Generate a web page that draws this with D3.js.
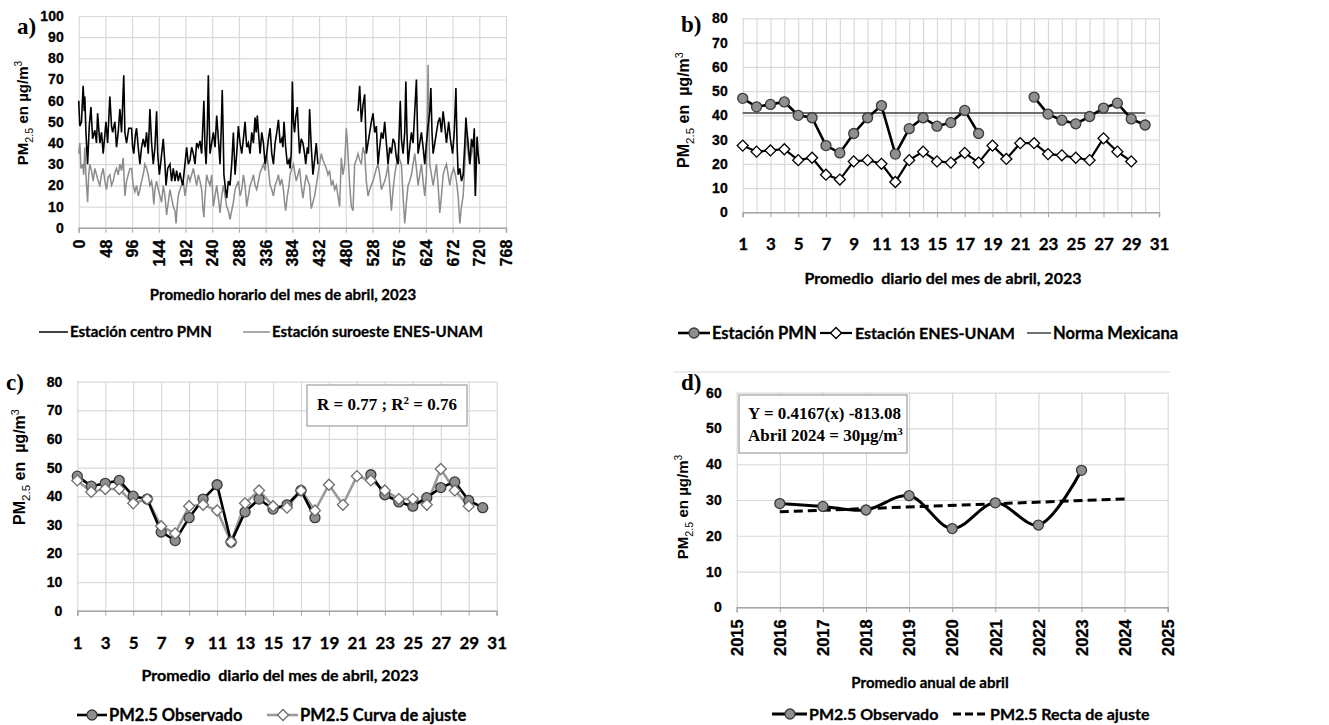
<!DOCTYPE html>
<html>
<head>
<meta charset="utf-8">
<script src="https://cdn.jsdelivr.net/npm/d3@7"></script>
<style>
body { margin: 0; background: #fff; }
svg { display: block; }
text { white-space: pre; }
</style>
</head>
<body>
<svg id="chart" width="1329" height="725"></svg>
<script>
// ---- a) promedio horario, abril 2023: [hora, valor]
var horarioPMN = [[0,60],[2,48],[5,50],[8,67],[10,55],[11,62],[13,45],[16,30],[19,48],[22,57],[25,42],[29,46],[32,40],[34,54],[38,40],[41,45],[44,35],[47,44],[49,50],[52,40],[56,62],[59,48],[61,45],[65,50],[68,38],[71,45],[74,56],[77,45],[81,72],[83,45],[86,40],[90,47],[95,47],[97,38],[99,35],[102,44],[104,47],[107,38],[110,30],[113,38],[116,42],[119,38],[122,45],[125,35],[128,56],[131,40],[134,30],[137,38],[140,55],[142,35],[145,25],[148,32],[152,42],[155,30],[157,20],[160,28],[164,30],[167,22],[170,28],[173,22],[176,27],[179,22],[182,26],[185,22],[187,20],[191,30],[194,38],[197,30],[200,32],[203,38],[206,35],[209,30],[212,40],[215,38],[218,41],[221,35],[225,60],[227,38],[229,30],[231,45],[233,72],[235,45],[236,35],[239,40],[242,45],[245,38],[248,53],[251,42],[254,30],[256,45],[258,65],[260,40],[261,25],[264,18],[266,14],[269,22],[272,20],[275,30],[278,45],[280,32],[281,25],[284,35],[287,48],[290,40],[293,35],[296,42],[299,50],[302,38],[305,40],[308,35],[311,45],[314,40],[317,52],[319,45],[321,53],[324,42],[326,35],[329,45],[332,40],[335,30],[338,35],[341,42],[344,47],[347,35],[350,30],[353,40],[356,45],[359,51],[362,40],[365,42],[367,38],[369,50],[372,38],[375,30],[378,32],[380,28],[382,35],[384,69],[386,50],[388,45],[390,52],[393,57],[395,45],[397,35],[400,42],[403,40],[406,35],[408,30],[411,38],[413,35],[415,56],[418,38],[421,25],[424,32],[427,40],[430,30],[466,null],[502,55],[505,67],[508,50],[511,58],[514,63],[517,35],[520,40],[523,45],[526,50],[529,54],[532,45],[535,48],[538,30],[541,38],[544,45],[547,42],[550,50],[553,40],[556,30],[559,38],[562,35],[565,42],[568,40],[571,33],[574,30],[576,45],[578,60],[580,42],[583,35],[586,45],[588,69],[590,45],[592,30],[595,38],[598,45],[601,40],[604,55],[607,70],[609,45],[610,35],[613,40],[616,45],[619,38],[622,30],[625,40],[628,48],[631,55],[633,66],[635,45],[637,35],[640,40],[643,45],[646,50],[649,52],[652,45],[655,55],[658,48],[661,40],[663,45],[665,50],[668,42],[672,35],[675,45],[678,66],[680,40],[682,25],[685,28],[688,22],[691,25],[694,40],[696,52],[698,45],[700,40],[703,30],[706,42],[709,38],[711,47],[713,15],[716,43],[718,35],[720,30]]
var horarioENES = [[0,35],[2,40],[4,28],[7,30],[9,25],[11,38],[13,25],[16,12],[18,25],[20,30],[23,27],[26,22],[29,28],[32,25],[35,22],[38,20],[41,25],[44,28],[47,22],[50,18],[53,24],[56,25],[59,20],[62,22],[65,26],[68,28],[71,25],[74,30],[77,27],[80,33],[83,15],[86,22],[89,25],[92,28],[95,28],[98,20],[101,17],[104,20],[107,15],[110,18],[113,22],[116,25],[119,30],[122,28],[125,25],[128,20],[131,22],[133,18],[135,11],[137,18],[140,22],[143,18],[146,15],[149,12],[152,20],[155,15],[158,6],[161,12],[164,18],[167,14],[170,10],[173,8],[175,2],[177,10],[179,15],[182,18],[185,20],[188,22],[191,15],[194,20],[197,25],[200,22],[203,25],[206,28],[209,24],[212,20],[215,25],[218,22],[221,18],[223,10],[225,5],[227,15],[230,25],[233,22],[236,20],[239,25],[242,10],[245,15],[248,20],[251,14],[254,7],[257,15],[260,20],[263,15],[266,10],[269,8],[272,4],[275,8],[278,12],[281,18],[284,20],[287,22],[290,15],[293,18],[296,25],[299,20],[302,10],[305,15],[308,20],[311,22],[314,25],[317,20],[320,18],[323,22],[326,26],[329,28],[332,30],[335,27],[338,35],[341,28],[344,20],[347,18],[350,15],[353,20],[356,22],[359,25],[362,20],[365,23],[368,18],[370,12],[372,8],[375,15],[378,20],[380,25],[383,28],[386,30],[389,25],[391,22],[394,25],[397,28],[400,20],[403,14],[406,20],[409,25],[412,22],[415,20],[417,12],[418,9],[421,12],[424,15],[427,20],[430,25],[433,30],[436,35],[439,32],[442,30],[445,28],[448,25],[451,27],[454,20],[457,22],[460,18],[463,20],[466,15],[469,10],[472,33],[475,25],[478,30],[481,47],[483,40],[484,35],[487,20],[490,10],[493,8],[496,30],[499,32],[502,35],[505,32],[508,30],[511,38],[514,35],[517,22],[520,15],[523,18],[526,20],[529,22],[532,25],[535,28],[538,30],[541,25],[544,18],[547,20],[550,22],[553,25],[556,30],[559,20],[562,8],[565,18],[568,25],[571,30],[574,35],[577,32],[580,30],[583,15],[586,2],[589,12],[592,20],[595,22],[598,25],[601,30],[604,35],[607,28],[610,20],[613,25],[616,30],[619,22],[622,15],[625,25],[628,77],[630,40],[631,30],[634,25],[637,20],[640,25],[643,30],[646,20],[649,7],[652,15],[655,25],[658,28],[661,30],[664,25],[667,20],[670,25],[674,28],[677,25],[679,22],[682,15],[685,2],[688,10],[691,15],[694,30],[697,45],[700,35],[703,30],[706,35],[709,40],[711,25],[713,15]]
var horasTicks = [0,48,96,144,192,240,288,336,384,432,480,528,576,624,672,720,768]

// ---- b) y c) promedio diario
var dias = [1,2,3,4,5,6,7,8,9,10,11,12,13,14,15,16,17,18,19,20,21,22,23,24,25,26,27,28,29,30]
var diarioPMN = [47,43.5,44.5,45.5,40,39,27.5,24.5,32.5,39,44,24,34.5,39,35.5,37,42,32.5,null,null,null,47.5,40.5,38,36.5,39.5,43,45,38.5,36]
var diarioENES = [27.5,25,25.5,26,21.5,22.5,15.5,13.5,21,21.5,20,12.5,21.5,25,21,20.5,24.5,20.5,27.5,22,28.5,28.5,24,23.5,22.5,21.5,30.5,25,21,null]
var normaMexicana = 41
var curvaAjuste = [45.5,41.5,42.5,42.5,37.5,39,29.5,27,36.5,37,35,24,37.5,42,36.5,36,42,35,44,37,47,45.5,42,39,39,37,49.5,42,36.5,null]
var diasGrid = [1,2,3,4,5,6,7,8,9,10,11,12,13,14,15,16,17,18,19,20,21,22,23,24,25,26,27,28,29,30,31]
var diasTicks = [1,3,5,7,9,11,13,15,17,19,21,23,25,27,29,31]

// ---- d) promedio anual de abril
var anios = [2016,2017,2018,2019,2020,2021,2022,2023]
var promedioAnual = [29,28.2,27.2,31.2,22,29.2,23,38.3]
var rectaAnios = [2016,2024]
var rectaValores = [26.7,30.3]
var aniosTicks = [2015,2016,2017,2018,2019,2020,2021,2022,2023,2024,2025]

var svg = d3.select("#chart")
var gridColor = "#d9d9d9"
var sansBold = "'Liberation Sans', Arial, sans-serif"
var labelFont = "Lato, 'Open Sans', sans-serif"
var serif = "'Liberation Serif', 'Times New Roman', serif"

svg.append("rect").attr("width", 1329).attr("height", 725).attr("fill", "#fff")

// grid, axis line and tick labels for one panel
function drawAxes(x, y, xGrid, xTicks, yTicks, rotateX, xFontSize) {
  var x0 = x.range()[0], x1 = x.range()[1]
  var y0 = y.range()[0], y1 = y.range()[1]

  var gy = svg.append("g").attr("transform", "translate(" + x0 + ",0)")
    .call(d3.axisLeft(y).tickValues(yTicks).tickSize(-(x1 - x0)).tickPadding(15))
  gy.select(".domain").remove()
  gy.selectAll("line").attr("stroke", gridColor).attr("stroke-width", 1.2)
  gy.selectAll("text").attr("font-family", sansBold).attr("font-weight", "bold")
    .attr("font-size", 14).attr("fill", "#000").attr("stroke", "#000").attr("stroke-width", 0.3)

  var gxg = svg.append("g").attr("transform", "translate(0," + y0 + ")")
    .call(d3.axisBottom(x).tickValues(xGrid).tickSize(-(y0 - y1)).tickFormat(""))
  gxg.select(".domain").remove()
  gxg.selectAll("line").attr("stroke", gridColor).attr("stroke-width", 1.2)

  var gx = svg.append("g").attr("transform", "translate(0," + y0 + ")")
    .call(d3.axisBottom(x).tickValues(xTicks).tickSize(5).tickPadding(rotateX ? 12 : 21).tickFormat(d3.format("d")))
  gx.select(".domain").attr("stroke", "#a6a6a6").attr("stroke-width", 1.5)
  gx.selectAll("line").attr("stroke", "#a6a6a6")
  var tx = gx.selectAll("text").attr("font-weight", "bold").attr("fill", "#000")
    .attr("stroke", "#000").attr("stroke-width", 0.3)
  if (rotateX) {
    tx.attr("font-family", sansBold).attr("font-size", xFontSize)
      .attr("transform", "rotate(-90)").attr("text-anchor", "end")
      .attr("x", -12).attr("y", 0).attr("dy", "0.35em")
  } else {
    tx.attr("font-family", labelFont).attr("font-size", xFontSize)
  }
}

function yTitle(cx, cy, size, texto) {
  var t = svg.append("text")
    .attr("transform", "translate(" + cx + "," + cy + ") rotate(-90)")
    .attr("text-anchor", "middle").attr("font-family", sansBold)
    .attr("font-weight", "bold").attr("font-size", size).attr("fill", "#000")
  t.append("tspan").text("PM")
  t.append("tspan").attr("font-size", size * 0.72).attr("font-weight", "normal")
    .attr("dy", size * 0.3).text("2.5")
  t.append("tspan").attr("dy", -size * 0.3).text(texto)
  t.append("tspan").attr("font-size", size * 0.68).attr("font-weight", "normal")
    .attr("dy", -size * 0.4).text("3")
}

function label(txt, xx, yy, size, anchor) {
  svg.append("text").attr("x", xx).attr("y", yy).attr("text-anchor", anchor || "start")
    .attr("font-family", labelFont).attr("font-weight", "bold").attr("font-size", size)
    .attr("fill", "#000").attr("stroke", "#000").attr("stroke-width", 0.3).text(txt)
}

function letter(txt, xx, yy) {
  svg.append("text").attr("x", xx).attr("y", yy).attr("font-family", serif)
    .attr("font-weight", "bold").attr("font-size", 23).text(txt)
}

function circleMark(g, cx, cy) {
  g.append("circle").attr("cx", cx).attr("cy", cy).attr("r", 5)
    .attr("fill", "#8f8f8f").attr("stroke", "#3a3a3a").attr("stroke-width", 1.3)
}

function diamondMark(g, cx, cy, stroke) {
  g.append("path").attr("d", d3.symbol(d3.symbolSquare, 60)())
    .attr("transform", "translate(" + cx + "," + cy + ") rotate(45)")
    .attr("fill", "#fff").attr("stroke", stroke).attr("stroke-width", 1.3)
}

// ================= a)
var xA = d3.scaleLinear().domain([0, 768]).range([78.7, 506])
var yA = d3.scaleLinear().domain([0, 100]).range([227.7, 16])
drawAxes(xA, yA, horasTicks, horasTicks, d3.range(0, 101, 10), true, 16)

var lineA = d3.line()
  .defined(function(d) { return d[1] !== null })
  .x(function(d) { return xA(d[0]) })
  .y(function(d) { return yA(d[1]) })

svg.append("path").datum(horarioENES).attr("d", lineA)
  .attr("fill", "none").attr("stroke", "#8c8c8c").attr("stroke-width", 1.5)
svg.append("path").datum(horarioPMN).attr("d", lineA)
  .attr("fill", "none").attr("stroke", "#000").attr("stroke-width", 1.6)

letter("a)", 17, 34)
yTitle(28, 113, 15, " en µg/m")
label("Promedio horario del mes de abril, 2023", 283, 300, 15, "middle")
svg.append("line").attr("x1", 39).attr("x2", 68).attr("y1", 332).attr("y2", 332)
  .attr("stroke", "#000").attr("stroke-width", 1.5)
label("Estación centro PMN", 70, 337, 15)
svg.append("line").attr("x1", 243).attr("x2", 270).attr("y1", 332).attr("y2", 332)
  .attr("stroke", "#8c8c8c").attr("stroke-width", 1.5)
label("Estación suroeste ENES-UNAM", 272, 337, 15)

// ================= b)
var xB = d3.scaleLinear().domain([1, 31]).range([742.7, 1159])
var yB = d3.scaleLinear().domain([0, 80]).range([212.3, 18.3])
drawAxes(xB, yB, diasGrid, diasTicks, d3.range(0, 81, 10), false, 17)

var lineB = d3.line()
  .defined(function(d) { return d[1] !== null })
  .x(function(d) { return xB(d[0]) })
  .y(function(d) { return yB(d[1]) })

svg.append("path").datum([[dias[0], normaMexicana], [dias[dias.length - 1], normaMexicana]])
  .attr("d", lineB).attr("fill", "none").attr("stroke", "#404040").attr("stroke-width", 1.5)

var enesB = dias.map(function(d, i) { return [d, diarioENES[i]] })
var pmnB = dias.map(function(d, i) { return [d, diarioPMN[i]] })
svg.append("path").datum(enesB).attr("d", lineB)
  .attr("fill", "none").attr("stroke", "#000").attr("stroke-width", 2.2)
svg.append("path").datum(pmnB).attr("d", lineB)
  .attr("fill", "none").attr("stroke", "#000").attr("stroke-width", 2.6)
var gB = svg.append("g")
enesB.filter(function(d) { return d[1] !== null }).forEach(function(d) {
  diamondMark(gB, xB(d[0]), yB(d[1]), "#000")
})
pmnB.filter(function(d) { return d[1] !== null }).forEach(function(d) {
  circleMark(gB, xB(d[0]), yB(d[1]))
})

letter("b)", 681, 32)
yTitle(689, 110, 16, " en  µg/m")
label("Promedio  diario del mes de abril, 2023", 943, 284, 16, "middle")
var legB = svg.append("g")
legB.append("line").attr("x1", 678).attr("x2", 710).attr("y1", 333).attr("y2", 333)
  .attr("stroke", "#000").attr("stroke-width", 2.6)
circleMark(legB, 694, 333)
label("Estación PMN", 712, 339, 16.5)
legB.append("line").attr("x1", 820).attr("x2", 852).attr("y1", 333).attr("y2", 333)
  .attr("stroke", "#000").attr("stroke-width", 2.2)
diamondMark(legB, 836, 333, "#000")
label("Estación ENES-UNAM", 855, 339, 16)
legB.append("line").attr("x1", 1027).attr("x2", 1051).attr("y1", 333).attr("y2", 333)
  .attr("stroke", "#404040").attr("stroke-width", 1.5)
label("Norma Mexicana", 1053, 339, 16.5)

// ================= c)
var xC = d3.scaleLinear().domain([1, 31]).range([77.3, 496.7])
var yC = d3.scaleLinear().domain([0, 80]).range([610.7, 381.7])
drawAxes(xC, yC, diasTicks, diasTicks, d3.range(0, 81, 10), false, 17)

var lineC = d3.line()
  .defined(function(d) { return d[1] !== null })
  .x(function(d) { return xC(d[0]) })
  .y(function(d) { return yC(d[1]) })

var ajusteC = dias.map(function(d, i) { return [d, curvaAjuste[i]] })
var obsC = dias.map(function(d, i) { return [d, diarioPMN[i]] })
svg.append("path").datum(ajusteC).attr("d", lineC)
  .attr("fill", "none").attr("stroke", "#9a9a9a").attr("stroke-width", 2.6)
svg.append("path").datum(obsC).attr("d", lineC)
  .attr("fill", "none").attr("stroke", "#000").attr("stroke-width", 2.6)
var gC = svg.append("g")
obsC.filter(function(d) { return d[1] !== null }).forEach(function(d) {
  circleMark(gC, xC(d[0]), yC(d[1]))
})
ajusteC.filter(function(d) { return d[1] !== null }).forEach(function(d) {
  diamondMark(gC, xC(d[0]), yC(d[1]), "#6e6e6e")
})

svg.append("rect").attr("x", 307).attr("y", 385).attr("width", 160).attr("height", 41)
  .attr("fill", "#fff").attr("stroke", "#8c8c8c").attr("stroke-width", 1)
var rTxt = svg.append("text").attr("x", 387).attr("y", 410).attr("text-anchor", "middle")
  .attr("font-family", serif).attr("font-weight", "bold").attr("font-size", 17)
rTxt.append("tspan").text("R = 0.77 ; R")
rTxt.append("tspan").attr("font-size", 11).attr("dy", -6).text("2")
rTxt.append("tspan").attr("dy", 6).text(" = 0.76")

letter("c)", 6, 390)
yTitle(25, 467, 16, " en  µg/m")
label("Promedio  diario del mes de abril, 2023", 280, 681, 16, "middle")
var legC = svg.append("g")
legC.append("line").attr("x1", 77).attr("x2", 107).attr("y1", 715).attr("y2", 715)
  .attr("stroke", "#000").attr("stroke-width", 2.6)
circleMark(legC, 92, 715)
label("PM2.5 Observado", 109, 721, 16.5)
legC.append("line").attr("x1", 267).attr("x2", 298).attr("y1", 715).attr("y2", 715)
  .attr("stroke", "#9a9a9a").attr("stroke-width", 2.6)
diamondMark(legC, 283, 715, "#6e6e6e")
label("PM2.5 Curva de ajuste", 300, 721, 16.5)

// ================= d)
svg.append("line").attr("x1", 673).attr("x2", 1170).attr("y1", 372).attr("y2", 372)
  .attr("stroke", gridColor).attr("stroke-width", 1)

var xD = d3.scaleLinear().domain([2015, 2025]).range([736.7, 1167.7])
var yD = d3.scaleLinear().domain([0, 60]).range([607.3, 392.7])
drawAxes(xD, yD, aniosTicks, aniosTicks, d3.range(0, 61, 10), true, 16.5)

var rectaD = rectaAnios.map(function(d, i) { return [d, rectaValores[i]] })
var obsD = anios.map(function(d, i) { return [d, promedioAnual[i]] })
svg.append("path").datum(rectaD)
  .attr("d", d3.line().x(function(d) { return xD(d[0]) }).y(function(d) { return yD(d[1]) }))
  .attr("fill", "none").attr("stroke", "#000").attr("stroke-width", 3).attr("stroke-dasharray", "9,5")
svg.append("path").datum(obsD)
  .attr("d", d3.line().curve(d3.curveCatmullRom.alpha(0.5))
    .x(function(d) { return xD(d[0]) }).y(function(d) { return yD(d[1]) }))
  .attr("fill", "none").attr("stroke", "#000").attr("stroke-width", 3)
var gD = svg.append("g")
obsD.forEach(function(d) { circleMark(gD, xD(d[0]), yD(d[1])) })

svg.append("rect").attr("x", 739).attr("y", 395).attr("width", 168).attr("height", 58)
  .attr("fill", "#fff").attr("stroke", "#8c8c8c").attr("stroke-width", 1)
svg.append("text").attr("x", 748).attr("y", 419).attr("font-family", serif)
  .attr("font-weight", "bold").attr("font-size", 17).text("Y = 0.4167(x) -813.08")
var abril = svg.append("text").attr("x", 748).attr("y", 441).attr("font-family", serif)
  .attr("font-weight", "bold").attr("font-size", 17)
abril.append("tspan").text("Abril 2024 = 30µg/m")
abril.append("tspan").attr("font-size", 11).attr("dy", -6).text("3")

letter("d)", 681, 390)
yTitle(688, 507, 15, " en µg/m")
label("Promedio anual de abril", 930, 688, 15, "middle")
var legD = svg.append("g")
legD.append("line").attr("x1", 772).attr("x2", 807).attr("y1", 714).attr("y2", 714)
  .attr("stroke", "#000").attr("stroke-width", 3)
circleMark(legD, 790, 714)
label("PM2.5 Observado", 809, 720, 16)
legD.append("line").attr("x1", 953).attr("x2", 986).attr("y1", 714).attr("y2", 714)
  .attr("stroke", "#000").attr("stroke-width", 3).attr("stroke-dasharray", "8,4")
label("PM2.5 Recta de ajuste", 990, 720, 16)
</script>
</body>
</html>
